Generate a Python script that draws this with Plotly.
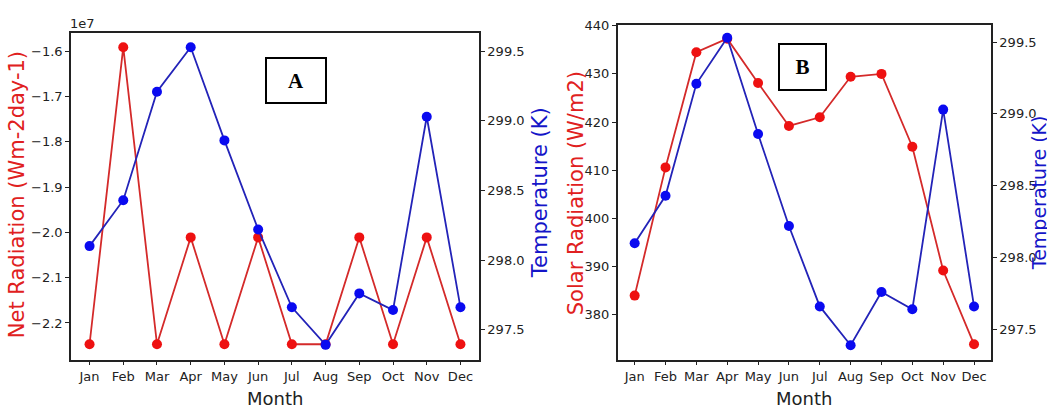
import plotly.graph_objects as go

W, H = 1047, 409

months = ["Jan", "Feb", "Mar", "Apr", "May", "Jun", "Jul", "Aug", "Sep", "Oct", "Nov", "Dec"]
net_radiation = [-2.247e7, -1.591e7, -2.247e7, -2.011e7, -2.247e7, -2.011e7,
                 -2.247e7, -2.247e7, -2.011e7, -2.247e7, -2.011e7, -2.247e7]
temperature = [298.10, 298.43, 299.21, 299.53, 298.86, 298.22,
               297.66, 297.39, 297.76, 297.64, 299.03, 297.66]
solar_radiation = [384.0, 410.6, 434.5, 437.3, 428.1, 419.2,
                   421.0, 429.4, 430.0, 414.9, 389.2, 373.9]

net_tickvals = [-1.6e7, -1.7e7, -1.8e7, -1.9e7, -2.0e7, -2.1e7, -2.2e7]
net_ticktext = ["\u22121.6", "\u22121.7", "\u22121.8", "\u22121.9", "\u22122.0", "\u22122.1", "\u22122.2"]
temp_tickvals = [297.5, 298.0, 298.5, 299.0, 299.5]
temp_ticktext = ["297.5", "298.0", "298.5", "299.0", "299.5"]
solar_tickvals = [380, 390, 400, 410, 420, 430, 440]

RED_LINE, RED_MK = "#d42a2a", "#ee1111"
BLUE_LINE, BLUE_MK = "#2323b8", "#0a0af0"
FONT = "DejaVu Sans"
TICK = dict(family=FONT, size=13, color="#222")
AX = "#222"


def px(x):
    return x / W


def py(y):
    return 1 - y / H


fig = go.Figure()

fig.add_trace(go.Scatter(x=months, y=net_radiation, mode="lines+markers",
                         line=dict(color=RED_LINE, width=1.8),
                         marker=dict(color=RED_MK, size=10),
                         xaxis="x", yaxis="y"))
fig.add_trace(go.Scatter(x=months, y=temperature, mode="lines+markers",
                         line=dict(color=BLUE_LINE, width=1.8),
                         marker=dict(color=BLUE_MK, size=10),
                         xaxis="x", yaxis="y2"))
fig.add_trace(go.Scatter(x=months, y=solar_radiation, mode="lines+markers",
                         line=dict(color=RED_LINE, width=1.8),
                         marker=dict(color=RED_MK, size=10),
                         xaxis="x2", yaxis="y3"))
fig.add_trace(go.Scatter(x=months, y=temperature, mode="lines+markers",
                         line=dict(color=BLUE_LINE, width=1.8),
                         marker=dict(color=BLUE_MK, size=10),
                         xaxis="x2", yaxis="y4"))

xcommon = dict(type="category", range=[-0.55, 11.55], showgrid=False, zeroline=False,
               showline=True, linecolor=AX, linewidth=1.5, mirror=True,
               ticks="outside", ticklen=4, tickcolor=AX, tickfont=TICK)
ycommon = dict(showgrid=False, zeroline=False, showline=True, linecolor=AX, linewidth=1.5,
               ticks="outside", ticklen=4, tickcolor=AX, tickfont=TICK)

yA_dom = [py(359), py(27)]
yB_dom = [py(359), py(19)]

fig.update_layout(
    width=W, height=H,
    margin=dict(l=0, r=0, t=0, b=0),
    paper_bgcolor="white", plot_bgcolor="white",
    showlegend=False,
    xaxis=dict(xcommon, domain=[px(71), px(479)], anchor="y"),
    yaxis=dict(ycommon, domain=yA_dom, anchor="x", side="left",
               range=[-2.2812e7, -1.5587e7], tickmode="array",
               tickvals=net_tickvals, ticktext=net_ticktext),
    yaxis2=dict(ycommon, overlaying="y", anchor="x", side="right",
                range=[297.283, 299.635], tickmode="array",
                tickvals=temp_tickvals, ticktext=temp_ticktext),
    xaxis2=dict(xcommon, domain=[px(617.7), px(991)], anchor="y3"),
    yaxis3=dict(ycommon, domain=yB_dom, anchor="x2", side="left",
                range=[370.7, 440.2], tickmode="array", tickvals=solar_tickvals),
    yaxis4=dict(ycommon, overlaying="y3", anchor="x2", side="right",
                range=[297.289, 299.621], tickmode="array",
                tickvals=temp_tickvals, ticktext=temp_ticktext),
)

title_font_red = dict(family=FONT, size=21, color="#e02020")
title_font_blue = dict(family=FONT, size=21, color="#1515c8")
month_font = dict(family=FONT, size=18, color="#222")

ann = [
    dict(x=px(17), y=py(192), text="Net Radiation (Wm-2day-1)", textangle=-90,
         font=title_font_red),
    dict(x=px(540), y=py(190), text="Temperature (K)", textangle=-90,
         font=title_font_blue),
    dict(x=px(576), y=py(190), text="Solar Radiation (W/m2)", textangle=-90,
         font=title_font_red),
    dict(x=px(1039), y=py(190), text="Temperature (K)", textangle=-90,
         font=dict(family=FONT, size=19, color="#1515c8")),
    dict(x=px(275), y=py(398), text="Month", font=month_font),
    dict(x=px(804), y=py(398.5), text="Month", font=month_font),
    dict(x=px(82), y=py(18), text="1e7", font=dict(family=FONT, size=13, color="#222")),
    dict(x=px(296.3), y=py(75.4), text="<b>A</b>", width=56, height=41,
         font=dict(family="Liberation Serif", size=21, color="black"),
         bordercolor="black", borderwidth=2, borderpad=1, bgcolor="white"),
    dict(x=px(802), y=py(62), text="<b>B</b>", width=43, height=42,
         font=dict(family="Liberation Serif", size=21, color="black"),
         bordercolor="black", borderwidth=2, borderpad=1, bgcolor="white"),
]
for a in ann:
    a.update(xref="paper", yref="paper", showarrow=False, xanchor="center", yanchor="middle")
fig.update_layout(annotations=ann)

fig.write_html(
    "out.html",
    config={"displayModeBar": False},
    post_script=(
        "document.documentElement.style.margin='0';"
        "document.documentElement.style.padding='0';"
        "document.body.style.margin='0';"
        "document.body.style.padding='0';"
        "document.body.style.overflow='hidden';"
    ),
)
